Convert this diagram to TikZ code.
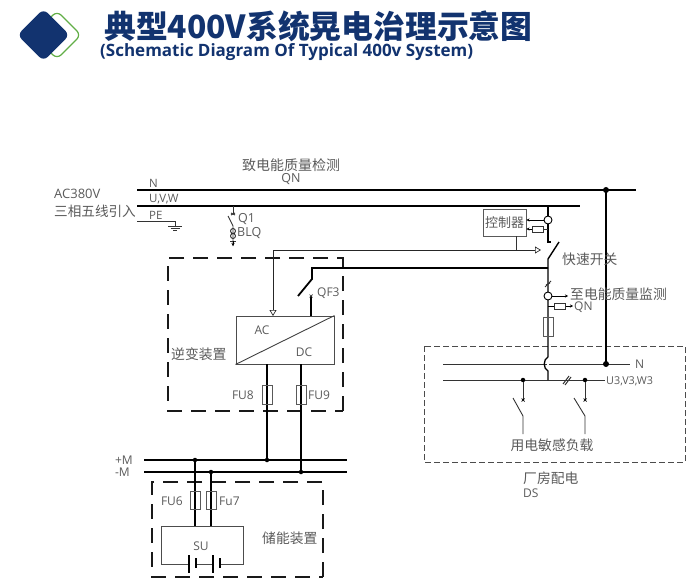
\documentclass[tikz,border=0pt]{standalone}
\usepackage{fontspec}
\setmainfont{Open Sans}
\newfontfamily\cjk{Noto Sans CJK SC}
\usetikzlibrary{arrows.meta}
\definecolor{navy}{HTML}{12336F}
\definecolor{leaf}{HTML}{62AE47}
\definecolor{ink}{HTML}{5A5A5A}
\tikzset{
 x=1pt,y=-1pt,
 lab/.style={inner sep=0,text=ink,font=\fontsize{12}{14}\selectfont},
 zh/.style={inner sep=0,text=ink,font=\cjk\fontsize{13.8}{15}\selectfont},
 bus/.style={line width=2.8pt,black},
 thickw/.style={line width=2.3pt,black},
 midw/.style={line width=1.2pt,black},
 thin/.style={line width=.9pt,black!80},
 dashbox/.style={line width=1.8pt,black!90,dash pattern=on 15pt off 9pt},
 lightdash/.style={line width=.9pt,black!70,dash pattern=on 6pt off 3pt},
 greyb/.style={draw=black!65,line width=.9pt,fill=none},
 dot/.style={circle,fill=black,inner sep=0,minimum size=#1},
 dot/.default=5pt,
 ring/.style={circle,draw=black,line width=.9pt,inner sep=0,minimum size=8pt,fill=white},
 fusebox/.style={draw=black!80,line width=.8pt,fill=white,minimum width=11pt,minimum height=6pt,inner sep=0},
 vfuse/.style={greyb,minimum width=10pt,minimum height=19pt,inner sep=0},
 tri/.style={-{Triangle[open,length=6pt,width=7pt]},line width=.7pt,black!85},
 smallarr/.style={-{Stealth[length=3pt,width=3pt]},line width=.7pt,black},
}
\begin{document}
\begin{tikzpicture}
\useasboundingbox (0,0) rectangle (692,585);
% logo
\node[draw=leaf,line width=1.2pt,rounded corners=6pt,rotate=45,minimum size=34pt,inner sep=0] (logob) at (57,35) {};
\node[fill=navy,rounded corners=6pt,rotate=45,minimum size=37pt,inner sep=0] (logoa) at (43.5,35) {};
% titles
\node[anchor=west,inner sep=0,text=navy,font=\cjk\bfseries\fontsize{31.8}{34}\selectfont] (title) at (104,26) {典型400V系统晃电治理示意图};
\node[anchor=west,inner sep=0,text=navy,font=\bfseries\fontsize{17}{19}\selectfont] (subtitle) at (100,52) {(Schematic Diagram Of Typical 400v System)};
% dashed boxes
\draw[dashbox] (343,411) -- (343,258) -- (168,258) -- (168,411) -- cycle;
\draw[dashbox] (323,577) -- (323,482) -- (152,482) -- (152,577) -- cycle;
\draw[lightdash] (424,346) rectangle (685,462);
% coordinates
\coordinate (nL) at (137,190); \coordinate (nR) at (636,190);
\coordinate (uL) at (137,206); \coordinate (uR) at (580,206);
\coordinate (nTap) at (606,190);
\coordinate (n3L) at (443,364); \coordinate (n3R) at (630,364); \coordinate (n3Tap) at (606,364);
\coordinate (u3L) at (443,380); \coordinate (u3R) at (605,380);
\coordinate (pL) at (144,460); \coordinate (pR) at (347,460);
\coordinate (mL) at (144,472); \coordinate (mR) at (347,472);
% buses
\draw[bus] (nL) -- (nR);
\draw[bus] (uL) -- (uR);
\draw[line width=1.6pt,black] (nTap) -- (n3Tap);
\node[dot=6pt] (d1) at (nTap) {};
\draw[thin] (n3L) -- (n3R);
\draw[thin] (u3L) -- (u3R);
\node[dot=6pt] (d2) at (n3Tap) {};
% PE and ground
\coordinate (peL) at (137,221); \coordinate (peC) at (175,221); \coordinate (gnd) at (175,226);
\draw[thin] (peL) -- (peC) -- (gnd);
\draw[thin] (168,226) -- (182,226) (170.5,228) -- (179.5,228) (173,230) -- (177,230);
% Q1
\coordinate (q1a) at (233,206); \coordinate (q1b) at (233,214); \coordinate (q1c) at (228,216); \coordinate (q1d) at (233,226); \coordinate (q1e) at (233,246);
\draw[thin] (q1a) -- (q1b);
\draw[thin] (231,213) -- (235,215) (235,213) -- (231,215);
\draw[thin] (q1c) -- (q1d) -- (q1e);
\draw[thin] (233,231) circle[radius=2.5] (233,236) circle[radius=2.5];
\draw[thin] (230,241) -- (236,241);
\draw[smallarr] (233,241) -- (q1e);
% labels top left
\node[zh,anchor=center,font=\cjk\fontsize{14}{15}\selectfont] (tq1) at (291,165) {致电能质量检测};
\node[lab,font=\fontsize{12.5}{14}\selectfont] (tqn) at (291,179) {QN};
\node[lab,anchor=west,font=\fontsize{13}{15}\selectfont] (ac) at (54,194) {AC380V};
\node[zh,anchor=west,font=\cjk\fontsize{13.6}{15}\selectfont] (in) at (54,211) {三相五线引入};
\node[lab,anchor=west,font=\fontsize{11.5}{13}\selectfont] (ln) at (149,183) {N};
\node[lab,anchor=west,font=\fontsize{11.5}{13}\selectfont] (luvw) at (149,199) {U,V,W};
\node[lab,anchor=west,font=\fontsize{11.5}{13}\selectfont] (lpe) at (149,215) {PE};
\node[lab,anchor=west,font=\fontsize{12.5}{14}\selectfont] (lq1) at (238,219) {Q1};
\node[lab,anchor=west,font=\fontsize{12.5}{14}\selectfont] (lblq) at (237,233) {BLQ};
% controller
\node[greyb,minimum width=43pt,minimum height=27pt,inner sep=0,text=ink,font=\cjk\fontsize{13}{14}\selectfont] (ctrl) at (504.5,222.5) {控制器};
\coordinate (ctrlStem) at (516,236); \coordinate (sigT) at (516,250);
\coordinate (sigL) at (273,250); \coordinate (sigR) at (541,250);
\draw[line width=.8pt,black!80] (ctrlStem) -- (sigT);
\draw[tri] (sigL) -- (sigR);
\coordinate (acIn) at (273,316);
\draw[tri] (sigL) -- (acIn);
% main line, fast switch
\coordinate (mainT) at (548,206); \coordinate (mainB) at (548,242); \coordinate (mainC) at (551,242);
\coordinate (swA) at (548,259); \coordinate (swB) at (559,242);
\coordinate (jmpT) at (548,357); \coordinate (jmpB) at (548,371); \coordinate (mainEnd) at (548,380);
\draw[line width=1.4pt,black] (mainT) -- (mainB) -- (mainC);
\draw[line width=1.4pt,black] (swB) -- (swA) -- (jmpT);
\draw[white,line width=1.4pt] (548,360) -- (548,368);
\draw[black,line width=1.3pt] (jmpT) .. controls (543,359) and (543,369) .. (jmpB) -- (mainEnd);
\node[ring] (c1) at (548,220) {};
\draw[smallarr] (c1) -- (ctrl.east|-c1);
\node[fusebox] (f1) at (538,229) {};
\draw[smallarr] (f1) -- (ctrl.east|-f1);
\coordinate (f1t) at (548,229);
\draw[thin] (f1) -- (f1t);
\node[zh,anchor=west] (lsw) at (562,259) {快速开关};
% sensor
\draw[line width=1pt,black!80] (545,287) -- (551,281);
\draw[line width=1pt,black!80] (546,285) -- (550,283);
\node[ring] (c2) at (548,296) {};
\coordinate (c2e) at (568,296);
\draw[smallarr] (c2) -- (c2e);
\node[zh,anchor=west] (lmon) at (570,294) {至电能质量监测};
\coordinate (f2s) at (548,306); \coordinate (f2e) at (573,306);
\draw[smallarr] (f2s) -- (f2e);
\node[fusebox] (f2) at (560,306) {};
\node[lab,anchor=west,font=\fontsize{12}{14}\selectfont] (lqn) at (574,307) {QN};
\node[vfuse] (f3) at (548,326.5) {};
% tie to inverter
\coordinate (hR) at (548,268); \coordinate (hL) at (312,268); \coordinate (hD) at (312,279); \coordinate (qfE) at (298,296);
\draw[line width=1.8pt,black] (hR) -- (hL) -- (hD) -- (qfE);
% inverter
\node[draw=black!70,line width=.9pt,minimum width=98pt,minimum height=48pt,inner sep=0] (inv) at (285,340) {};
\draw[black!75,line width=.9pt] (inv.south west) -- (inv.north east);
\coordinate (qfT) at (311,296); \coordinate (qfB) at (311,316);
\draw[line width=1.4pt,black] (qfT) -- (qfB);
\draw[line width=.7pt,black!80] (309.5,294.5) -- (312.5,297.5) (312.5,294.5) -- (309.5,297.5);
\node[lab,anchor=center] (lac) at (262,330) {AC};
\node[lab,anchor=center] (ldc) at (304,352) {DC};
\node[lab,anchor=west] (lqf) at (317,293) {QF3};
\node[zh,anchor=west] (linv) at (171,354) {逆变装置};
% DC lines
\coordinate (a1) at (267,364); \coordinate (a2) at (267,460);
\coordinate (b1) at (301,364); \coordinate (b2) at (301,472);
\draw[bus,line width=2.4pt] (pL) -- (pR);
\draw[bus,line width=2.4pt] (mL) -- (mR);
\draw[thickw] (a1) -- (a2);
\draw[thickw] (b1) -- (b2);
\node[vfuse] (fu8) at (267,394.5) {};
\node[vfuse] (fu9) at (301,394.5) {};
\node[lab,anchor=east] (lfu8) at (254,395) {FU8};
\node[lab,anchor=west] (lfu9) at (308,395) {FU9};
\node[dot=4.5pt] at (a2) {};
\node[dot=4.5pt] at (b2) {};
\node[lab,anchor=east] (lp) at (133,460) {+M};
\node[lab,anchor=east] (lm) at (130,472) {-M};
% storage
\coordinate (s1t) at (195,460); \coordinate (s1b) at (195,526);
\coordinate (s2t) at (211,472); \coordinate (s2b) at (211,526);
\draw[thickw] (s1t) -- (s1b);
\draw[thickw] (s2t) -- (s2b);
\node[dot=4.5pt] at (s1t) {};
\node[dot=4.5pt] at (s2t) {};
\node[vfuse,minimum height=18pt] (fu6) at (195,500) {};
\node[vfuse,minimum height=18pt] (fu7) at (211,500) {};
\node[lab,anchor=east] (lfu6) at (183,501) {FU6};
\node[lab,anchor=west] (lfu7) at (219,501) {Fu7};
\node[zh,anchor=west] (lst) at (262,538) {储能装置};
\node[lab,anchor=center] (lsu) at (201,546) {SU};
\coordinate (su1) at (161,526); \coordinate (su2) at (243,526); \coordinate (su3) at (243,564); \coordinate (su4) at (161,564);
\draw[black!70,line width=.9pt] (189,564) -- (su4) -- (su1) -- (su2) -- (su3) -- (220,564);
\draw[black!70,line width=.9pt] (196,564) -- (213,564);
\draw[black,line width=1.4pt] (189,555) -- (189,573) (213,555) -- (213,573);
\draw[black,line width=2pt] (196,558) -- (196,568) (220,558) -- (220,568);
% plant loads
\node[dot=4.5pt] (t1) at (523,380) {};
\node[dot=4.5pt] (t2) at (585,380) {};
\coordinate (x1) at (523,400); \coordinate (x2) at (585,400);
\coordinate (k1a) at (513,398); \coordinate (k1b) at (523,416); \coordinate (k1c) at (523,434);
\coordinate (k2a) at (574,398); \coordinate (k2b) at (585,416); \coordinate (k2c) at (585,434);
\draw[thin] (t1) -- (x1);
\draw[thin] (t2) -- (x2);
\draw[thin] (k1a) -- (k1b) -- (k1c);
\draw[thin] (k2a) -- (k2b) -- (k2c);
\draw[black,line width=.7pt] (521.5,398.5) -- (524.5,401.5) (524.5,398.5) -- (521.5,401.5);
\draw[black,line width=.7pt] (583.5,398.5) -- (586.5,401.5) (586.5,398.5) -- (583.5,401.5);
\draw[black!80,line width=1pt] (563,384) -- (569,376) (565,385) -- (571,377);
\node[zh] (lload) at (552,445) {用电敏感负载};
\node[lab,anchor=west,font=\fontsize{10.8}{12}\selectfont] (lu3) at (606,381) {U3,V3,W3};
\node[lab,anchor=west,font=\fontsize{12}{14}\selectfont] (ln3) at (635,364) {N};
\node[zh,anchor=west] (lds) at (523,478) {厂房配电};
\node[lab,anchor=west,font=\fontsize{12}{14}\selectfont] (ldsb) at (523,493) {DS};
\end{tikzpicture}
\end{document}
